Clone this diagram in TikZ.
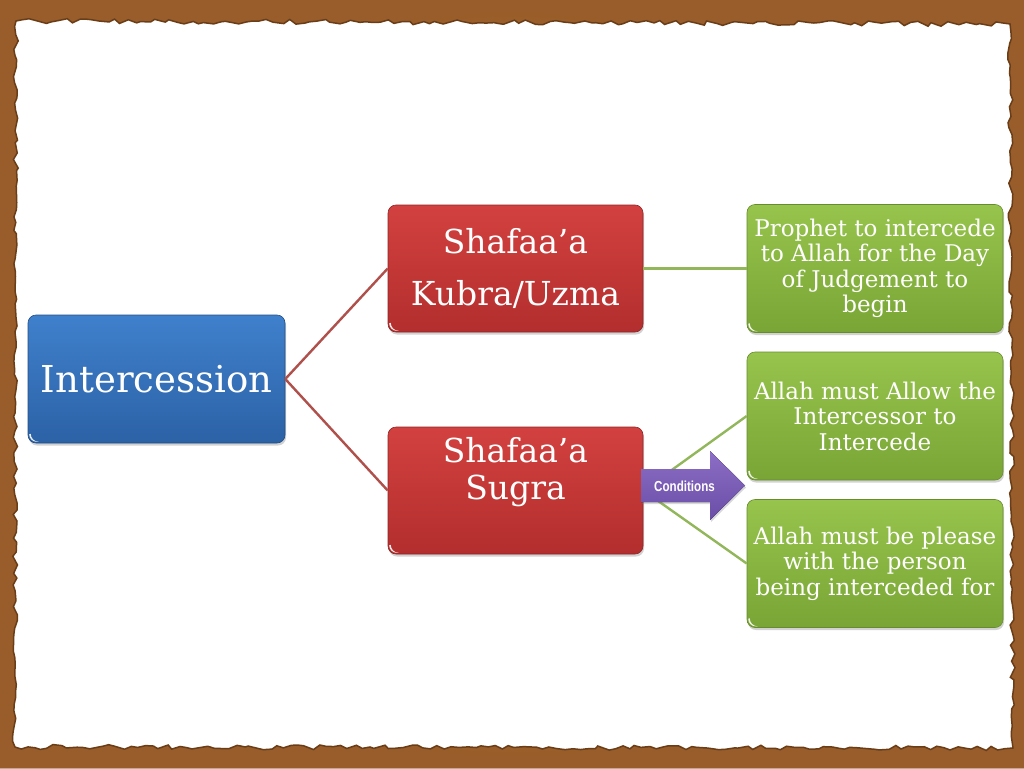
\documentclass[tikz,border=0pt]{standalone}
\usepackage{fontspec}
\setmainfont{DejaVu Serif}
\newfontfamily\condfont[FakeStretch=0.8]{Liberation Sans}
\usetikzlibrary{shadows,decorations.pathmorphing}
\definecolor{bgbrown}{HTML}{A5652E}
\definecolor{edgebrown}{HTML}{6A3D17}
\definecolor{bluetop}{HTML}{3F80CC}
\definecolor{bluebot}{HTML}{2C62A6}
\definecolor{redtop}{HTML}{D2413F}
\definecolor{redbot}{HTML}{B32E2E}
\definecolor{greentop}{HTML}{97C44C}
\definecolor{greenbot}{HTML}{79A536}
\definecolor{purtop}{HTML}{8C6EC6}
\definecolor{purbot}{HTML}{6A4DA6}
\definecolor{redline}{HTML}{B0504B}
\definecolor{greenline}{HTML}{92B75A}
\tikzset{
  boxbase/.style={rounded corners=8pt, inner sep=0pt, text=white, align=center,
    drop shadow={opacity=0.35, shadow xshift=1pt, shadow yshift=-2.5pt}},
  bluebox/.style={boxbase, top color=bluetop, bottom color=bluebot, draw=bluebot!80!black, line width=0.6pt},
  redbox/.style={boxbase, top color=redtop, bottom color=redbot, draw=redbot!80!black, line width=0.6pt},
  greenbox/.style={boxbase, top color=greentop, bottom color=greenbot, draw=greenbot!85!black, line width=0.6pt,
    minimum width=256pt, minimum height=128pt, font=\fontsize{23}{25.5}\selectfont},
  txt/.style={text=white, align=center, inner sep=0pt},
  redconn/.style={draw=redline, line width=2.4pt},
  greenconn/.style={draw=greenline, line width=2.4pt},
  condtxt/.style={text=white, inner sep=0pt, font=\condfont\bfseries\fontsize{14.5}{16}\selectfont},
  gloss/.style={fill=white, opacity=0.9}
}
\begin{document}
\begin{tikzpicture}[x=1pt,y=-1pt]
\useasboundingbox (0,0) rectangle (1024,768);
% background and paper
\fill[bgbrown] (0,0) rectangle (1024,768);
\shade[inner color=bgbrown!85!yellow, outer color=bgbrown!85!black, opacity=0.5] (0,0) rectangle (1024,768);
\pgfmathsetseed{12}
\filldraw[fill=white, draw=edgebrown, line width=1.5pt, decorate,
  decoration={random steps, segment length=7pt, amplitude=2.5pt}]
  (16,21) -- (1010,24) -- (1013,748) -- (15,747) -- cycle;
% boxes
\node[bluebox, minimum width=257pt, minimum height=128pt,
  font=\fontsize{37}{43}\selectfont] (inter) at (156.5,379) {Intercession};
\node[redbox, minimum width=255pt, minimum height=127pt,
  font=\fontsize{33}{52}\selectfont] (kubra) at (515.5,268.5) {Shafaa’a\\Kubra/Uzma};
\node[redbox, minimum width=255pt, minimum height=127pt] (sugra) at (515.5,490.5) {};
\node[txt, font=\fontsize{33}{37}\selectfont] (sugratxt) at (515.5,472) {Shafaa’a\\Sugra};
\node[greenbox] (g1) at (875,268.5) {Prophet to intercede\\to Allah for the Day\\of Judgement to\\begin};
\node[greenbox] (g2) at (875,416) {Allah must Allow the\\Intercessor to\\Intercede};
\node[greenbox] (g3) at (875,563.5) {Allah must be please\\with the person\\being interceded for};
% gloss marks
\foreach \b in {inter,kubra,sugra,g1,g2,g3}{
  \fill[gloss] ([xshift=1.5pt,yshift=9pt]\b.south west) arc[start angle=180, end angle=270, radius=7.5pt]
    -- ++(2pt,0) arc[start angle=270, end angle=180, radius=8pt] -- cycle;
}
% connectors
\draw[redconn] (inter.east) -- (kubra.west);
\draw[redconn] (inter.east) -- (sugra.west);
\draw[greenconn] (kubra.east) -- (g1.west);
\draw[greenconn] (sugra.east) -- (g2.west);
\draw[greenconn] (sugra.east) -- (g3.west);
% conditions arrow
\fill[top color=purtop, bottom color=purbot, drop shadow={opacity=0.3, shadow xshift=1pt, shadow yshift=-2pt}]
  (641,469) -- (710,469) -- (710,451) -- (745,485.5) -- (710,520) -- (710,502) -- (641,502) -- cycle;
\node[condtxt] (cond) at (684.5,486) {Conditions};
\end{tikzpicture}
\end{document}
